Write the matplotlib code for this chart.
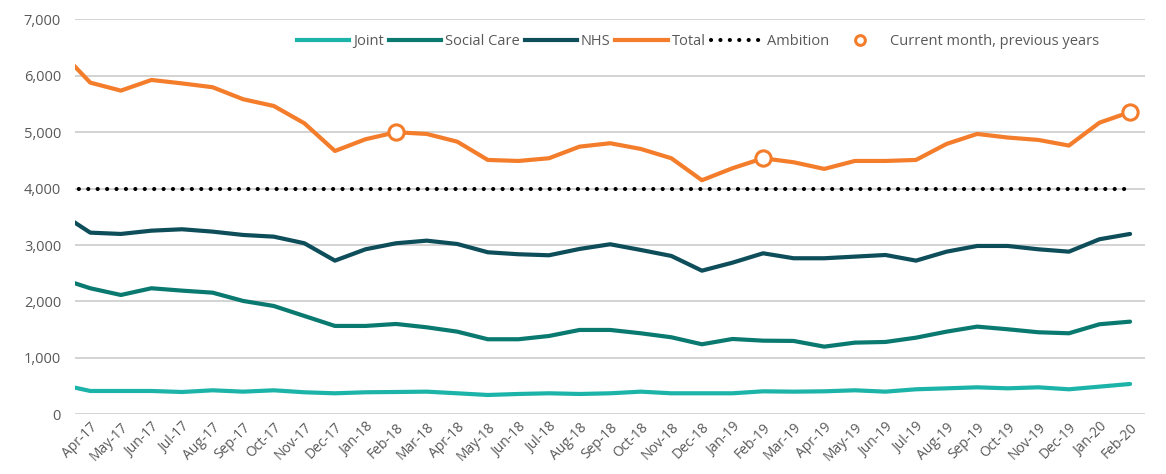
import matplotlib
matplotlib.use("Agg")
import matplotlib.pyplot as plt
import matplotlib.transforms as mtransforms
from matplotlib.lines import Line2D

plt.rcParams['font.family'] = ['Open Sans', 'DejaVu Sans']

# monthly series, Mar-17 sits just left of the visible axis
months = ['Mar-17', 'Apr-17', 'May-17', 'Jun-17', 'Jul-17', 'Aug-17', 'Sep-17',
          'Oct-17', 'Nov-17', 'Dec-17', 'Jan-18', 'Feb-18', 'Mar-18', 'Apr-18',
          'May-18', 'Jun-18', 'Jul-18', 'Aug-18', 'Sep-18', 'Oct-18', 'Nov-18',
          'Dec-18', 'Jan-19', 'Feb-19', 'Mar-19', 'Apr-19', 'May-19', 'Jun-19',
          'Jul-19', 'Aug-19', 'Sep-19', 'Oct-19', 'Nov-19', 'Dec-19', 'Jan-20',
          'Feb-20']

joint = [531, 413, 413, 413, 395, 425, 401, 425, 390, 372, 390, 395,
         401, 372, 342, 360, 372, 360, 372, 401, 372, 372, 372, 407,
         401, 407, 425, 401, 443, 460, 478, 460, 478, 443, 490, 537]

social_care = [2410, 2234, 2115, 2234, 2192, 2156, 2009, 1920, 1743, 1566, 1566, 1601,
               1542, 1465, 1330, 1330, 1388, 1495, 1495, 1436, 1365, 1241, 1335, 1305,
               1300, 1199, 1270, 1282, 1358, 1465, 1554, 1507, 1454, 1436, 1596, 1642]

nhs = [3574, 3220, 3197, 3255, 3280, 3238, 3179, 3149, 3032, 2724, 2925, 3032,
       3078, 3019, 2872, 2837, 2819, 2931, 3014, 2913, 2807, 2546, 2688, 2854,
       2766, 2766, 2795, 2824, 2724, 2883, 2984, 2984, 2925, 2883, 3103, 3197]

total = [6446, 5880, 5738, 5927, 5866, 5798, 5585, 5466, 5159, 4668, 4876, 5000,
         4970, 4833, 4509, 4491, 4539, 4745, 4805, 4704, 4539, 4149, 4362, 4539,
         4468, 4350, 4491, 4491, 4509, 4793, 4970, 4906, 4864, 4764, 5170, 5358]

ambition = [4000, 4000, 4000, 4000, 4000, 4000, 4000, 4000, 4000, 4000, 4000, 4000,
            4000, 4000, 4000, 4000, 4000, 4000, 4000, 4000, 4000, 4000, 4000, 4000,
            4000, 4000, 4000, 4000, 4000, 4000, 4000, 4000, 4000, 4000, 4000, 4000]

# same month in earlier years
current_month = ['Feb-18', 'Feb-19', 'Feb-20']

c_joint = '#1cb3a8'
c_social = '#0a7a70'
c_nhs = '#0d4e5a'
c_total = '#f47d2c'
c_text = '#595959'
dots = (0, (0.01, 2.25))

fig = plt.figure(figsize=(11.66, 4.74), dpi=100)
ax = fig.add_axes([0.0643, 0.126, 0.918, 0.833])

x = list(range(len(months)))
ax.plot(x, joint, color=c_joint, lw=3, solid_capstyle='round', label='Joint')
ax.plot(x, social_care, color=c_social, lw=3, solid_capstyle='round', label='Social Care')
ax.plot(x, nhs, color=c_nhs, lw=3, solid_capstyle='round', label='NHS')
ax.plot(x, total, color=c_total, lw=3, solid_capstyle='round', label='Total')
ax.plot(x, ambition, color='black', lw=3, linestyle=dots,
        dash_capstyle='round', label='Ambition')

cm_idx = [months.index(m) for m in current_month]
ax.plot(cm_idx, [total[i] for i in cm_idx], linestyle='none', marker='o',
        markersize=11, markerfacecolor='white', markeredgecolor=c_total,
        markeredgewidth=2.2, zorder=5)

ax.set_xlim(0.5, len(months) - 0.5)
ax.set_ylim(0, 7000)
ax.set_yticks(range(0, 7001, 1000))
ax.set_yticklabels([f'{v:,}' for v in range(0, 7001, 1000)])
ax.set_xticks(x[1:])
ax.set_xticklabels(months[1:], rotation=45, ha='right', va='top',
                   rotation_mode='anchor')
offset = mtransforms.ScaledTranslation(-5 / 100, -7 / 100, fig.dpi_scale_trans)
for lbl in ax.get_xticklabels():
    lbl.set_transform(lbl.get_transform() + offset)

ax.tick_params(axis='y', length=0, pad=10, labelsize=10.5, labelcolor=c_text)
ax.tick_params(axis='x', length=0, pad=4, labelsize=10, labelcolor=c_text)
ax.grid(axis='y', color='#d0d0d0', lw=1.3)
ax.set_axisbelow(True)
for s in ax.spines.values():
    s.set_visible(False)

handles = [
    Line2D([], [], color=c_joint, lw=3),
    Line2D([], [], color=c_social, lw=3),
    Line2D([], [], color=c_nhs, lw=3),
    Line2D([], [], color=c_total, lw=3),
    Line2D([], [], color='black', lw=3, linestyle=dots, dash_capstyle='round'),
    Line2D([], [], linestyle='none', marker='o', markersize=7,
           markerfacecolor='white', markeredgecolor=c_total, markeredgewidth=2.2),
]
labels = ['Joint', 'Social Care', 'NHS', 'Total', 'Ambition', 'Current month, previous years']
leg = ax.legend(handles, labels, ncol=6, loc='center', bbox_to_anchor=(0.582, 0.943),
                frameon=False, fontsize=10.5, handlelength=3.6, handletextpad=0.25,
                columnspacing=0.35, labelcolor=c_text)

fig.savefig('out.png', dpi=100)
